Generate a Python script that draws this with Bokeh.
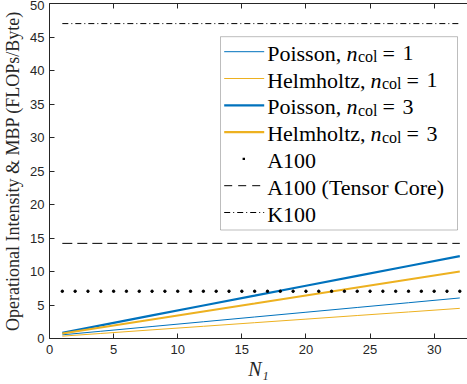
from bokeh.plotting import figure
from bokeh.models import (LinearAxis, FixedTicker, Range1d, Label, BoxAnnotation, Arrow)
from bokeh.embed import file_html
from bokeh.resources import INLINE

# ---- data ----
N = [1, 4, 8, 12, 16, 20, 24, 28, 32]
poisson_1 = [0.55, 1.08, 1.79, 2.50, 3.21, 3.92, 4.63, 5.34, 6.05]
helmholtz_1 = [0.35, 0.75, 1.29, 1.82, 2.36, 2.89, 3.43, 3.96, 4.50]
poisson_3 = [0.85, 1.96, 3.44, 4.92, 6.39, 7.87, 9.34, 10.82, 12.30]
helmholtz_3 = [0.75, 1.64, 2.84, 4.03, 5.22, 6.42, 7.61, 8.81, 10.00]

N_dev = list(range(1, 33))
A100 = 7.05
A100_TC = 14.2
K100 = 47.0

x_ticks = [0, 5, 10, 15, 20, 25, 30]
y_ticks = [0, 5, 10, 15, 20, 25, 30, 35, 40, 45, 50]

BLUE = "#0072BD"
YELLOW = "#EDB120"
AX = "#262626"
SERIF = "Liberation Serif"
SANS = "Liberation Sans"

p = figure(width=467, height=384, output_backend="svg", toolbar_location=None,
           x_range=Range1d(0, 32.6), y_range=Range1d(0, 50),
           min_border_left=48, min_border_right=0, min_border_top=3, min_border_bottom=46)
p.outline_line_color = None
p.xgrid.visible = False
p.ygrid.visible = False
p.background_fill_color = "white"
p.border_fill_color = "white"

for ax in (p.xaxis[0], p.yaxis[0]):
    ax.major_tick_in = 5
    ax.major_tick_out = 0
    ax.minor_tick_line_color = None
    ax.axis_line_color = AX
    ax.major_tick_line_color = AX
    ax.major_label_text_color = AX
    ax.major_label_text_font = SANS
    ax.major_label_text_font_size = "13px"
    ax.axis_label_text_color = AX
    ax.axis_label_text_font = SERIF
p.xaxis[0].ticker = FixedTicker(ticks=x_ticks)
p.yaxis[0].ticker = FixedTicker(ticks=y_ticks)
p.xaxis[0].major_label_standoff = 6
p.yaxis[0].major_label_standoff = 5
p.xaxis[0].axis_label = "N₁"
p.xaxis[0].axis_label_text_font_style = "italic"
p.xaxis[0].axis_label_text_font_size = "20px"
p.xaxis[0].axis_label_standoff = 1
p.yaxis[0].axis_label = "Operational Intensity & MBP (FLOPs/Byte)"
p.yaxis[0].axis_label_text_font_style = "normal"
p.yaxis[0].axis_label_text_font_size = "18px"
p.yaxis[0].axis_label_standoff = 4

top = LinearAxis(ticker=FixedTicker(ticks=x_ticks), major_label_text_font_size="0px",
                 major_label_overrides={t: "" for t in x_ticks},
                 major_label_standoff=0, major_tick_in=5, major_tick_out=0,
                 minor_tick_line_color=None, axis_line_color=AX, major_tick_line_color=AX)
p.add_layout(top, "above")

# ---- data lines ----
p.line(N, poisson_1, line_color=BLUE, line_width=1)
p.line(N, helmholtz_1, line_color=YELLOW, line_width=1)
p.line(N, poisson_3, line_color=BLUE, line_width=2.2)
p.line(N, helmholtz_3, line_color=YELLOW, line_width=2.2)
p.scatter(N_dev, [A100] * len(N_dev), size=2.5, color="black", marker="circle")
p.line([N_dev[0], N_dev[-1]], [A100_TC, A100_TC], line_color="black", line_width=1, line_dash="10 5")
p.line([N_dev[0], N_dev[-1]], [K100, K100], line_color="black", line_width=1, line_dash="6 3 1 3")

# ---- legend (screen units relative to plot frame) ----
p.add_layout(BoxAnnotation(left=171, right=408, bottom=108.5, top=301.8,
                           left_units="screen", right_units="screen",
                           bottom_units="screen", top_units="screen",
                           fill_color="white", fill_alpha=1.0,
                           line_color=AX, line_width=1, level="overlay"))

rows = [286.8 - 26.8 * i for i in range(7)]
samples = [
    dict(line_color=BLUE, line_width=1),
    dict(line_color=YELLOW, line_width=1),
    dict(line_color=BLUE, line_width=2.2),
    dict(line_color=YELLOW, line_width=2.2),
    None,
    dict(line_color="black", line_width=1, line_dash="8 6"),
    dict(line_color="black", line_width=1, line_dash="6 3 1 3"),
]
for y, s in zip(rows, samples):
    if s is None:
        p.add_layout(BoxAnnotation(left=193.1, right=195.5, bottom=y - 1.2, top=y + 1.2,
                                   left_units="screen", right_units="screen",
                                   bottom_units="screen", top_units="screen",
                                   fill_color="black", fill_alpha=1.0, line_color=None,
                                   level="overlay"))
    else:
        p.add_layout(Arrow(start=None, end=None, x_start=174.7, y_start=y, x_end=214.7, y_end=y,
                           start_units="screen", end_units="screen", level="overlay", **s))

def lab(x, y, t, size="22px", style="normal"):
    p.add_layout(Label(x=x, y=y, x_units="screen", y_units="screen", text=t,
                       text_font=SERIF, text_font_size=size, text_font_style=style,
                       text_color="black", text_baseline="alphabetic", text_align="left",
                       level="overlay"))

# (name, x of n, x of "col", x of "=", x of digit)
entries = [
    ("Poisson,", 297, 308.5, 333, 353, "1"),
    ("Helmholtz,", 321, 332.5, 357, 377, "1"),
    ("Poisson,", 297, 308.5, 333, 353, "3"),
    ("Helmholtz,", 321, 332.5, 357, 377, "3"),
]
DY = 1.5
for (name, xn, xc, xe, xd, k), y in zip(entries, rows[:4]):
    lab(217.7, y - DY, name)
    lab(xn, y - DY, "n", style="italic")
    lab(xc, y - DY - 3.5, "col", size="16px")
    lab(xe, y - DY, "=")
    lab(xd, y - DY, k)
lab(217.7, rows[4] - DY, "A100")
lab(217.7, rows[5] - DY, "A100 (Tensor Core)")
lab(217.7, rows[6] - DY, "K100")

open("out.html", "w").write(file_html(p, INLINE))
